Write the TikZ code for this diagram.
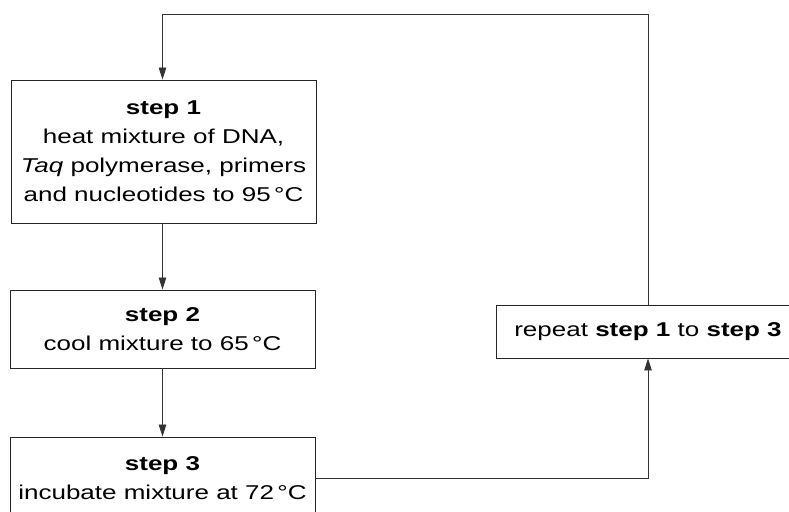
\documentclass[tikz,border=0pt]{standalone}
\usepackage{fontspec}
\setmainfont[FakeStretch=1.3]{Liberation Sans}
\usetikzlibrary{arrows.meta}
\tikzset{
  box/.style={draw=black!85, line width=0.9pt, minimum width=305pt, align=center, inner sep=0pt,
    font=\fontsize{20}{29}\selectfont},
  arr/.style={draw=black!80, line width=0.8pt, -{Triangle[length=12pt,width=7.5pt]}}
}
\begin{document}
\begin{tikzpicture}[x=1pt,y=-1pt]
\clip (0,0) rectangle (789,511);
\fill[white] (0,0) rectangle (789,511);
\node[box, minimum height=143pt] (b1) at (163.5,151.5)
  {\textbf{step 1}\\heat mixture of DNA,\\\textit{Taq} polymerase, primers\\and nucleotides to 95\,°C};
\node[box, minimum height=78pt] (b2) at (162.5,329)
  {\textbf{step 2}\\cool mixture to 65\,°C};
\node[box, minimum height=82pt] (b3) at (162.5,478)
  {\textbf{step 3}\\incubate mixture at 72\,°C};
\node[box, minimum width=304pt, minimum height=53pt] (rep) at (648,331.5)
  {repeat \textbf{step 1} to \textbf{step 3}};
\coordinate (top) at (0,14);
\draw[arr] (b1.south -| b2.north) -- (b2.north);
\draw[arr] (b2.south) -- (b3.north);
\draw[arr] (b3.east) -| (rep.south);
\draw[arr] (rep.north) -- (rep.north |- top) -| (b1.north -| b2.north);
\end{tikzpicture}
\end{document}
